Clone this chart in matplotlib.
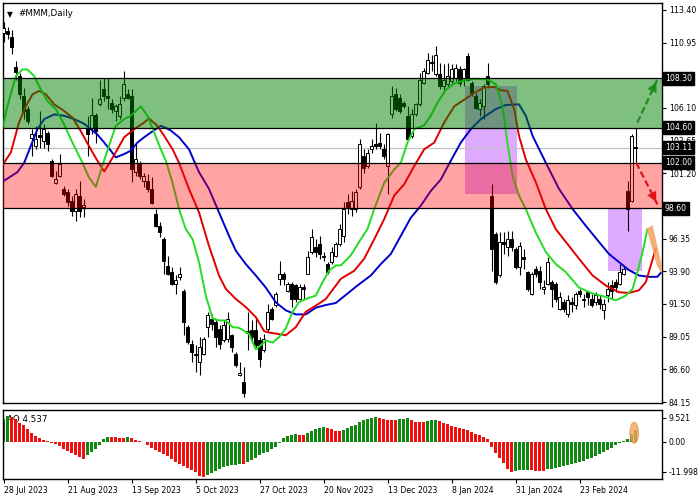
import matplotlib
matplotlib.use("Agg")
import matplotlib.pyplot as plt
import matplotlib.transforms as mtrans
from matplotlib.patches import Rectangle, Polygon, Ellipse
import numpy as np

# daily candles, #MMM, 28 Jul 2023 .. mid Mar 2024
opens = [111.70, 111.80, 111.40, 109.10, 108.45, 106.96, 105.97, 103.87, 103.25, 104.05,
         103.62, 104.24, 102.14, 100.50, 101.02, 100.03, 99.85, 99.17, 98.42, 99.54,
         98.67, 104.61, 104.61, 105.52, 106.35, 107.46, 106.96, 106.47, 105.85, 105.48,
         106.84, 107.15, 106.96, 101.30, 101.89, 100.65, 100.65, 100.03, 98.18, 97.31,
         96.32, 94.34, 93.85, 92.98, 93.47, 92.48, 89.76, 88.52, 87.78, 87.16,
         87.78, 89.76, 90.38, 90.13, 89.64, 88.77, 88.90, 89.14, 87.78, 86.17,
         85.68, 89.45, 89.51, 89.51, 88.77, 88.03, 89.64, 91.12, 91.37, 93.35,
         93.72, 92.48, 92.98, 92.86, 91.87, 92.73, 93.72, 95.33, 95.70, 95.95,
         95.08, 94.46, 94.59, 95.08, 95.95, 96.57, 99.04, 98.55, 98.55, 100.16,
         102.51, 101.77, 103.00, 103.38, 103.50, 103.00, 101.77, 105.60, 107.09, 106.84,
         106.47, 105.48, 103.99, 105.60, 106.35, 107.95, 108.70, 109.50, 108.58, 108.58,
         107.71, 107.83, 108.08, 108.33, 108.95, 108.20, 109.93, 107.95, 106.96, 105.97,
         106.22, 108.45, 99.54, 96.70, 93.60, 96.07, 95.70, 96.32, 95.58, 94.22,
         94.96, 93.85, 92.24, 94.09, 93.97, 92.61, 92.98, 93.10, 92.98, 91.12,
         91.62, 90.75, 91.62, 91.37, 92.48, 91.87, 92.36, 91.87, 91.62, 91.87,
         91.00, 92.11, 92.86, 93.10, 92.98, 93.72, 99.91, 99.17, 103.15]
highs = [112.45, 112.10, 111.90, 109.55, 108.70, 107.58, 106.22, 104.49, 104.74, 105.85,
         104.86, 104.37, 102.26, 101.40, 102.63, 100.28, 100.03, 99.54, 100.03, 100.65,
         99.29, 105.48, 106.84, 105.73, 108.20, 108.33, 108.33, 106.72, 106.35, 106.96,
         108.80, 107.46, 107.46, 103.38, 102.14, 101.27, 101.15, 100.90, 98.55, 97.56,
         96.44, 95.08, 94.22, 93.60, 94.22, 92.61, 89.89, 88.77, 88.40, 89.02,
         89.02, 90.88, 90.75, 90.26, 89.89, 90.26, 90.88, 89.27, 87.91, 87.16,
         86.79, 90.88, 90.26, 90.50, 89.02, 89.27, 91.50, 91.25, 92.36, 94.71,
         93.85, 93.10, 93.10, 92.98, 92.98, 92.98, 95.45, 97.06, 96.32, 96.57,
         95.33, 94.59, 95.70, 96.07, 97.43, 99.04, 99.66, 99.91, 100.03, 103.75,
         103.00, 103.00, 103.75, 104.98, 104.24, 103.38, 104.24, 107.71, 107.58, 107.09,
         106.59, 106.22, 105.97, 106.47, 108.70, 109.07, 110.18, 110.06, 110.68, 109.44,
         109.32, 109.44, 109.32, 109.32, 109.20, 109.07, 110.18, 108.08, 107.21, 106.72,
         107.83, 109.44, 100.40, 96.82, 96.82, 96.82, 96.94, 96.94, 95.70, 96.07,
         95.58, 93.97, 93.85, 94.34, 94.34, 93.23, 94.96, 93.23, 93.10, 92.36,
         91.87, 92.11, 91.99, 92.36, 92.61, 92.24, 92.48, 92.24, 92.36, 92.11,
         91.87, 93.10, 93.23, 93.35, 94.46, 94.34, 100.65, 104.12, 104.60]
lows = [111.00, 111.20, 110.10, 108.20, 106.72, 105.23, 104.86, 102.51, 103.00, 103.13,
        103.13, 102.88, 100.90, 100.40, 100.90, 99.54, 98.80, 98.05, 97.68, 97.93,
        97.93, 102.51, 104.12, 103.50, 106.22, 106.59, 105.97, 105.73, 105.11, 105.23,
        106.59, 106.72, 100.53, 101.02, 100.78, 100.16, 99.79, 98.92, 97.20, 96.44,
        93.72, 93.60, 92.86, 92.24, 93.23, 89.14, 88.52, 87.16, 86.42, 86.17,
        87.66, 89.02, 89.51, 88.28, 88.15, 88.65, 88.65, 87.91, 86.79, 86.10,
        84.56, 88.03, 88.65, 88.15, 86.79, 87.91, 89.39, 90.26, 91.25, 92.86,
        92.86, 92.36, 91.25, 91.62, 91.74, 91.87, 93.72, 95.21, 94.96, 94.84,
        94.71, 93.72, 94.46, 94.96, 95.83, 96.07, 98.18, 98.05, 98.30, 100.03,
        101.27, 101.64, 102.76, 103.00, 103.00, 102.26, 99.66, 105.36, 105.85, 105.73,
        106.10, 103.62, 103.87, 105.48, 106.22, 107.83, 108.58, 108.82, 108.45, 107.46,
        107.34, 107.58, 107.83, 108.08, 107.71, 107.71, 108.08, 106.96, 105.97, 105.48,
        105.23, 107.71, 93.97, 92.98, 93.47, 95.21, 95.08, 95.45, 94.09, 93.60,
        94.09, 92.48, 92.11, 93.47, 92.61, 92.24, 92.86, 91.25, 91.62, 91.00,
        90.88, 90.50, 90.88, 91.12, 91.99, 91.25, 91.37, 91.25, 91.37, 91.12,
        90.38, 91.62, 91.87, 92.36, 92.86, 93.60, 96.94, 99.04, 102.00]
closes = [112.05, 111.60, 110.65, 108.75, 107.10, 105.85, 105.11, 104.12, 103.75, 103.90,
          104.49, 103.38, 101.02, 100.78, 101.89, 99.66, 99.04, 98.42, 99.66, 98.42,
          98.85, 104.12, 105.52, 104.37, 106.72, 106.96, 106.84, 105.97, 106.22, 106.35,
          107.83, 106.84, 101.50, 102.26, 101.02, 101.02, 100.03, 99.00, 97.31, 96.82,
          94.71, 93.72, 92.98, 93.23, 93.72, 90.13, 88.65, 87.91, 87.66, 88.28,
          88.90, 90.63, 90.01, 89.02, 88.52, 89.89, 90.38, 88.28, 86.91, 86.37,
          84.81, 89.35, 89.02, 88.40, 87.41, 88.90, 90.88, 90.38, 92.24, 93.72,
          93.35, 92.98, 91.87, 91.87, 92.73, 92.61, 94.96, 96.44, 95.33, 95.21,
          94.96, 93.85, 95.33, 95.95, 97.06, 98.55, 98.67, 99.17, 99.79, 103.38,
          101.64, 102.76, 103.25, 103.25, 103.25, 102.51, 104.12, 106.96, 105.97, 105.85,
          106.22, 103.75, 105.60, 106.35, 108.20, 108.82, 109.68, 109.40, 110.06, 107.71,
          108.20, 108.45, 108.95, 109.07, 107.95, 108.95, 108.20, 107.21, 106.10, 106.47,
          107.71, 107.83, 95.58, 93.10, 96.07, 95.95, 96.32, 95.70, 94.22, 95.83,
          94.84, 92.61, 93.72, 93.72, 93.10, 92.73, 94.59, 92.61, 91.87, 91.99,
          91.12, 91.74, 91.49, 92.24, 92.24, 91.74, 91.99, 91.37, 92.11, 91.49,
          91.49, 92.61, 92.48, 92.73, 93.85, 94.09, 98.55, 103.99, 103.11]

# Awesome Oscillator histogram
ao = [9.1, 10.4, 10.0, 9.1, 7.7, 6.8, 5.3, 3.5, 2.4, 1.5,
      0.8, 0.3, -0.3, -0.7, -1.6, -2.7, -3.6, -4.5, -5.2, -5.9,
      -6.7, -5.3, -3.9, -2.7, -1.2, 1.3, 2.0, 1.95, 1.9, 1.7,
      1.65, 2.0, 1.5, 0.9, 0.4, 0.1, -1.3, -2.3, -3.2, -3.9,
      -4.7, -5.6, -6.9, -8.0, -8.7, -9.6, -10.5, -11.3, -12.1, -13.6,
      -13.9, -13.2, -12.5, -11.6, -10.7, -10.0, -9.6, -9.3, -9.2, -8.9,
      -9.0, -7.9, -7.3, -6.3, -5.3, -4.5, -3.9, -2.9, -2.0, -0.3,
      1.5, 2.4, 2.9, 3.1, 2.8, 2.7, 3.6, 4.3, 5.1, 5.7,
      6.1, 5.7, 5.1, 4.4, 4.3, 4.8, 5.7, 6.4, 6.9, 8.0,
      8.8, 9.3, 9.7, 10.0, 9.7, 9.1, 8.8, 8.7, 8.6, 9.1,
      9.3, 9.6, 8.7, 8.1, 8.0, 7.9, 8.4, 8.8, 8.9, 8.4,
      7.7, 7.1, 6.4, 6.0, 5.5, 5.1, 4.7, 4.0, 3.3, 2.7,
      2.0, 1.3, -2.0, -4.3, -6.3, -8.3, -10.9, -12.0, -11.6, -11.3,
      -11.2, -11.1, -11.3, -11.5, -11.6, -11.7, -10.9, -10.7, -10.3, -9.9,
      -9.6, -9.3, -8.9, -8.5, -8.0, -7.6, -6.9, -6.3, -5.6, -4.9,
      -4.0, -3.2, -2.3, -1.3, -0.5, 0.4, 1.3, 3.3, 4.537]

# alligator lines (bar index, price)
jaw_x = [-0.75, 3.4, 5.1, 6.75, 8.4, 10.1, 12.6, 15.1, 17.6, 20.1, 21.75, 23.4, 25.1, 26.75,
         28.0, 30.1, 31.75, 33.4, 35.1, 36.75, 39.25, 40.5, 41.75, 43.8, 46.3, 48.8, 51.3,
         53.8, 56.3, 58.0, 60.5, 63.0, 65.5, 68.0, 70.5, 73.0, 75.5, 78.0, 80.5, 83.0, 84.25,
         88.4, 91.75, 94.25, 96.75, 99.25, 101.75, 104.25, 106.75, 109.25, 111.75, 114.25,
         116.75, 119.25, 121.75, 123.0, 125.5, 128.8, 130.5, 132.2, 135.5, 138.8, 142.2,
         145.5, 148.8, 151.3, 153.8, 156.3, 158.8, 161.3, 163.4, 164.25]
jaw_y = [100.5, 101.3, 102.0, 103.25, 104.5, 105.25, 105.6, 105.5, 105.25, 104.9, 104.5, 104.1,
         103.5, 102.9, 102.4, 102.65, 102.9, 103.5, 103.9, 104.25, 104.75, 104.6, 104.4, 103.9,
         103.0, 101.3, 100.05, 98.3, 96.55, 95.45, 94.45, 93.6, 92.7, 91.6, 91.0, 90.7, 90.7,
         91.2, 91.4, 91.55, 91.85, 92.85, 93.6, 94.45, 95.2, 96.55, 97.9, 98.8, 99.9, 100.75,
         102.15, 103.5, 104.5, 105.25, 105.75, 106.0, 106.3, 106.35, 105.5, 104.0, 102.0,
         100.05, 98.55, 97.3, 96.1, 95.2, 94.6, 94.0, 93.6, 93.5, 93.5, 93.8]
teeth_x = [-0.75, 1.75, 3.8, 5.5, 7.2, 8.8, 10.5, 12.6, 15.1, 17.2, 19.25, 21.75, 23.4, 25.1,
           26.75, 28.4, 30.1, 32.6, 35.1, 36.3, 38.4, 40.1, 42.2, 43.8, 46.3, 48.8, 51.3, 53.8,
           55.5, 58.0, 60.5, 63.0, 65.1, 66.3, 68.4, 70.5, 73.0, 75.5, 78.0, 80.5, 81.75, 84.25,
           87.6, 90.1, 92.6, 95.1, 97.6, 100.1, 102.6, 105.1, 107.6, 110.1, 112.6, 115.1, 117.6,
           120.1, 122.6, 124.25, 125.9, 127.6, 128.8, 130.5, 133.0, 135.5, 138.0, 140.5, 143.8,
           147.2, 150.5, 153.8, 156.3, 158.8, 160.5, 161.75, 163.0]
teeth_y = [101.65, 102.75, 105.0, 106.2, 107.1, 107.35, 107.1, 106.35, 105.85, 105.35, 104.35,
           103.0, 102.15, 101.35, 102.15, 103.0, 103.9, 104.5, 105.0, 105.3, 104.75, 104.0,
           103.0, 102.0, 100.05, 98.3, 95.8, 93.6, 92.6, 91.85, 91.25, 90.5, 89.45, 89.35,
           89.25, 89.15, 89.75, 90.9, 91.35, 91.85, 92.35, 93.35, 93.95, 94.85, 96.3, 97.8,
           99.55, 100.4, 101.75, 103.0, 103.5, 105.0, 106.2, 106.7, 107.2, 107.6, 107.65,
           107.4, 107.35, 106.0, 104.0, 102.25, 100.55, 98.55, 97.05, 96.1, 94.85, 93.6,
           92.85, 92.35, 92.3, 92.5, 93.1, 94.35, 95.6]
lips_x = [-0.75, 0.9, 3.0, 4.7, 5.9, 7.6, 9.25, 10.9, 13.0, 15.1, 16.75, 19.25, 21.3, 23.0,
          24.6, 26.3, 28.0, 30.1, 31.75, 34.25, 35.9, 37.6, 39.25, 40.5, 42.2, 43.8, 45.5,
          47.2, 48.8, 50.5, 52.2, 53.8, 55.5, 57.2, 58.8, 61.3, 63.0, 64.25, 65.5, 67.2, 68.8,
          70.5, 72.2, 73.8, 75.5, 78.0, 79.7, 81.3, 83.0, 84.25, 86.75, 89.25, 90.9, 92.6,
          95.1, 97.6, 99.25, 100.9, 102.6, 105.1, 106.75, 108.4, 110.5, 112.6, 115.9, 118.4,
          120.9, 123.0, 124.7, 125.9, 127.2, 128.8, 130.5, 133.0, 135.5, 138.0, 140.5, 143.8,
          147.2, 150.5, 153.0, 155.5, 157.2, 158.4, 159.7, 160.9]
lips_y = [104.1, 106.2, 108.45, 108.95, 108.95, 108.45, 107.45, 106.6, 106.0, 104.85, 103.75,
          102.25, 100.9, 100.2, 101.75, 103.25, 104.75, 105.25, 105.5, 106.2, 105.5, 104.25,
          103.0, 102.15, 100.5, 98.55, 97.05, 96.3, 94.6, 92.1, 90.4, 90.25, 90.25, 89.75,
          89.7, 89.25, 88.1, 88.4, 88.75, 88.6, 89.0, 89.65, 90.9, 91.6, 91.85, 92.1, 93.1,
          93.95, 94.35, 94.35, 95.1, 96.3, 97.05, 98.55, 100.5, 101.5, 102.0, 103.5, 104.5,
          104.8, 105.5, 106.45, 107.45, 107.9, 108.2, 108.25, 108.2, 107.85, 106.2, 103.5,
          101.0, 99.55, 98.55, 96.8, 95.35, 94.45, 93.85, 92.7, 92.25, 92.0, 91.75, 92.1,
          92.6, 93.85, 95.35, 97.05]

date_pos = [0, 16, 32, 48, 64, 80, 96, 112, 128, 144]
date_labels = ["28 Jul 2023", "21 Aug 2023", "13 Sep 2023", "5 Oct 2023", "27 Oct 2023",
               "20 Nov 2023", "13 Dec 2023", "8 Jan 2024", "31 Jan 2024", "23 Feb 2024"]
price_ticks = [113.40, 110.95, 106.10, 103.65, 101.20, 96.35, 93.90, 91.50, 89.05, 86.60, 84.15]
levels = [108.30, 104.60, 102.00, 98.60]
last_price = 103.11
buy_zone = (104.60, 108.30)
sell_zone = (98.60, 102.00)
boxes = [(115.3, 128.3, 99.66, 107.68), (151.1, 159.5, 93.97, 98.60)]
up_arrow = [(158.4, 105.0), (163.4, 108.2)]
down_arrow = [(158.1, 102.0), (163.4, 98.9)]
orange_x = [160.7, 162.2, 164.7, 164.5, 163.3]
orange_y = [97.1, 97.35, 94.1, 93.75, 94.3]

plt.rcParams['font.family'] = ['DejaVu Sans']
FS = 5.6

fig = plt.figure(figsize=(7.0, 5.0), dpi=100)
ax = fig.add_axes([3/700, 97/500, 659/700, 400/500])
ax2 = fig.add_axes([3/700, 21/500, 659/700, 69/500])

o = np.array(opens); h = np.array(highs); l = np.array(lows); c = np.array(closes)
x = np.arange(len(o))
up = c >= o
body = c - o
body[np.abs(body) < 0.04] = 0.04

# boxes first (zones tint them later)
for x0, x1, y0, y1 in boxes:
    ax.add_patch(Rectangle((x0, y0), x1 - x0, y1 - y0, fc='#DDAAFF', ec='none', zorder=1))
ax.axhline(last_price, color='#C0C0C0', lw=0.9, zorder=1)

# candles
ax.vlines(x, l, h, color='black', lw=0.8, zorder=2)
ax.bar(x[up], body[up], bottom=o[up], width=0.7, color='white', edgecolor='black', lw=0.7, zorder=3)
ax.bar(x[~up], body[~up], bottom=o[~up], width=0.7, color='black', edgecolor='black', lw=0.7, zorder=3)

# alligator
ax.plot(jaw_x, jaw_y, color='#0000CC', lw=1.4, zorder=3.5)
ax.plot(teeth_x, teeth_y, color='#E00000', lw=1.4, zorder=3.5)
ax.plot(lips_x, lips_y, color='#22DD22', lw=1.4, zorder=3.6)

# zones on top, semi transparent
ax.axhspan(*buy_zone, color=(0, 0.5, 0), alpha=0.5, lw=0, zorder=4)
ax.axhspan(*sell_zone, color=(1, 0, 0), alpha=0.36, lw=0, zorder=4)
for lv in levels:
    ax.axhline(lv, color='black', lw=0.9, zorder=5)

# orange hint + arrows
ax.add_patch(Polygon(list(zip(orange_x, orange_y)), closed=True, fc='#F4A460', ec='none', alpha=0.85, zorder=5))
for (p0, p1), col in [(up_arrow, '#1E8C1E'), (down_arrow, '#E01414')]:
    ax.plot([p0[0], p1[0]], [p0[1], p1[1]], color=col, lw=1.6, ls=(0, (3, 1.5)), zorder=6)
    ax.annotate('', xy=p1, xytext=(p1[0] - (p1[0] - p0[0]) * 0.25, p1[1] - (p1[1] - p0[1]) * 0.25),
                arrowprops=dict(arrowstyle='-|>,head_length=0.7,head_width=0.35', color=col, lw=0.1),
                zorder=6)

ax.set_xlim(-0.2, 164.55)
ax.set_ylim(84.1, 113.9)
ax.set_xticks([])
ax.yaxis.tick_right()
all_ticks = price_ticks + levels + [last_price]
ax.set_yticks(all_ticks)
ax.set_yticklabels(['%.2f' % t if t in price_ticks else '' for t in all_ticks])
ax.tick_params(axis='y', direction='out', length=3, width=0.8, pad=2, labelsize=FS, colors='black')
trans = mtrans.blended_transform_factory(ax.transAxes, ax.transData)
for lv in levels + [last_price]:
    ax.text(1.004, lv, '%.2f' % lv, transform=trans, fontsize=FS, color='white', va='center', ha='left',
            bbox=dict(boxstyle='square,pad=0.25', fc='black', ec='black'), zorder=10, clip_on=False)
for sp in ax.spines.values():
    sp.set_linewidth(1.0)

ax.text(0.006, 0.983, '\u25BC', transform=ax.transAxes, fontsize=5.5, va='top', ha='left')
ax.text(0.024, 0.986, '#MMM,Daily', transform=ax.transAxes, fontsize=6.3, va='top', ha='left')

# AO panel
ao = np.array(ao)
rising = np.concatenate([[True], ao[1:] > ao[:-1]])
ax2.text(0.006, 0.93, 'AO %.3f' % ao[-1], transform=ax2.transAxes, fontsize=6.3, va='top', ha='left', zorder=1)
ax2.bar(x[rising], ao[rising], width=0.7, color='#118811', lw=0, zorder=2)
ax2.bar(x[~rising], ao[~rising], width=0.7, color='#F01010', lw=0, zorder=2)
ax2.add_patch(Ellipse((157.6, 3.6), 2.2, 8.5, fc='#F4A460', ec='#E8902A', lw=0.6, alpha=0.8, zorder=3))
ax2.set_xlim(-0.2, 164.55)
ax2.set_ylim(-14.9, 12.7)
ax2.yaxis.tick_right()
ax2.set_yticks([9.521, 0.0, -11.998])
ax2.set_yticklabels(['9.521', '0.00', '-11.998'])
ax2.tick_params(axis='y', direction='out', length=3, width=0.8, pad=2, labelsize=FS)
ax2.set_xticks(date_pos)
ax2.set_xticklabels(date_labels)
ax2.tick_params(axis='x', direction='out', length=3, width=0.8, pad=2, labelsize=FS)
for lab in ax2.get_xticklabels():
    lab.set_ha('left')
for sp in ax2.spines.values():
    sp.set_linewidth(1.0)

fig.savefig('out.png', dpi=100)
